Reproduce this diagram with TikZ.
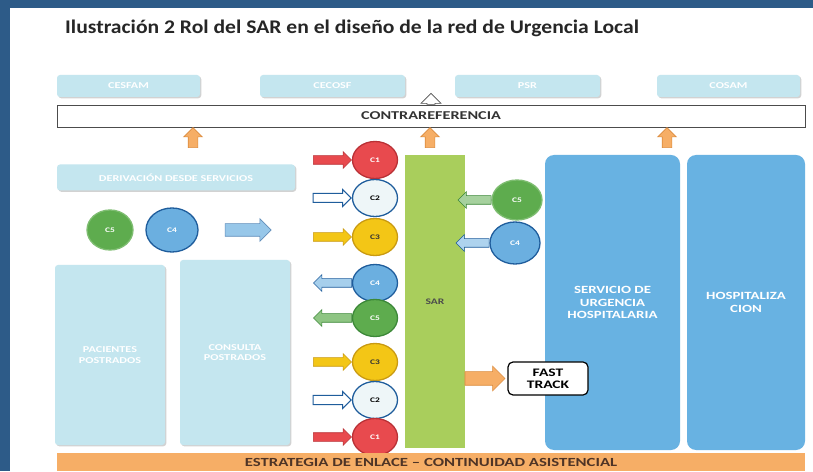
\documentclass[tikz,border=0pt]{standalone}
\usepackage{fontspec}
\setmainfont[FakeStretch=1.12]{Carlito}
\newfontfamily\diagfont[FakeStretch=1.35]{Carlito}
\usetikzlibrary{positioning,shapes.geometric,shapes.arrows,shadows}
\definecolor{frameblue}{HTML}{2D5B88}
\definecolor{boxcyan}{HTML}{C4E6EF}
\definecolor{hospblue}{HTML}{68B2E2}
\definecolor{sargreen}{HTML}{A9CE5C}
\definecolor{cred}{HTML}{E84A4E}
\definecolor{credd}{HTML}{B93136}
\definecolor{cwhite}{HTML}{EEF6F8}
\definecolor{cblued}{HTML}{1F5D9C}
\definecolor{cyellow}{HTML}{F3C616}
\definecolor{cyellowd}{HTML}{C99A12}
\definecolor{cblue}{HTML}{6BAFE0}
\definecolor{cgreen}{HTML}{5EAC4E}
\definecolor{cgreend}{HTML}{3C8838}
\definecolor{orangefill}{HTML}{F6AE66}
\definecolor{oranged}{HTML}{DC8C3E}
\definecolor{bartext}{HTML}{4E3426}
\begin{document}
\begin{tikzpicture}[x=1pt,y=1pt,
  lightbox/.style={rounded corners=3pt, fill=boxcyan, text=white, align=center,
    font=\diagfont\bfseries\fontsize{9}{10.5}\selectfont,
    drop shadow={shadow xshift=1.3pt, shadow yshift=-1.3pt, opacity=0.35}},
  bigbox/.style={rounded corners=9pt, fill=hospblue, text=white, align=center,
    font=\diagfont\bfseries\fontsize{11}{12.5}\selectfont, minimum height=295pt},
  cnode/.style={ellipse, minimum width=45pt, minimum height=37pt, inner sep=0pt,
    line width=1.3pt, font=\diagfont\bfseries\fontsize{7}{8}\selectfont},
  blockarrow/.style={single arrow, minimum height=38pt, minimum width=16pt,
    single arrow head extend=4pt, single arrow head indent=0pt, inner sep=4pt, line width=0.6pt},
  uparrow/.style={blockarrow, shape border rotate=90, minimum height=20pt, minimum width=18pt,
    inner sep=4.5pt, single arrow head extend=4.5pt, fill=orangefill, draw=oranged}
]
\useasboundingbox (0,0) rectangle (813,471);
\fill[frameblue] (0,0) rectangle (813,471);
\fill[white] (10,0) rectangle (813,463);

% title
\node[anchor=base west, inner sep=0pt, text=black!85,
  font=\bfseries\fontsize{19.3}{22}\selectfont] (title) at (65,437)
  {Ilustración 2 Rol del SAR en el diseño de la red de Urgencia Local};

% top row of centres
\node[lightbox, minimum width=143pt, minimum height=22pt] (cesfam) at (128.5,385) {CESFAM};
\node[lightbox, minimum width=145pt, minimum height=22pt] (cecosf) at (332.5,385) {CECOSF};
\node[lightbox, minimum width=145pt, minimum height=22pt] (psr) at (527.5,385) {PSR};
\node[lightbox, minimum width=143pt, minimum height=22pt] (cosam) at (728.5,385) {COSAM};

% contrarreferencia
\node[draw=black!70, line width=0.6pt, fill=white, minimum width=748pt, minimum height=22pt,
  font=\diagfont\bfseries\fontsize{12}{13}\selectfont, text=black!80] (contra) at (431,355) {CONTRAREFERENCIA};
\node[blockarrow, shape border rotate=90, minimum height=11pt, minimum width=20pt, inner sep=3pt,
  single arrow head extend=5pt, fill=white, draw=black!70, above=0pt of contra] (chevron) {};
\node[uparrow] (upa) at (193,331) {};
\node[uparrow] (upb) at (430,331) {};
\node[uparrow] (upc) at (667,331) {};

% left side
\node[lightbox, minimum width=238pt, minimum height=26pt] (deriva) at (176,293.5) {DERIVACIÓN DESDE SERVICIOS};
\node[cnode, fill=cgreen, draw=cgreen!80!white, text=white, minimum width=46pt, minimum height=40pt] (c5left) at (110,241) {C5};
\node[cnode, fill=cblue, draw=cblued, text=white, minimum width=52pt, minimum height=44pt] (c4left) at (172,241) {C4};
\node[blockarrow, minimum height=46pt, minimum width=22pt, inner sep=6pt, single arrow head extend=5pt,
  fill=cblue!70!white, draw=cblued!70] (flow) at (245,241) {};
\node[lightbox, minimum width=110pt, minimum height=180pt] (postra) at (110,116) {PACIENTES\\POSTRADOS};
\node[lightbox, minimum width=110pt, minimum height=185pt] (consul) at (235,118.5) {CONSULTA\\POSTRADOS};

% SAR
\node[fill=sargreen, minimum width=60pt, minimum height=293pt, text=black!70,
  font=\diagfont\bfseries\fontsize{8.5}{10}\selectfont] (sar) at (435,169.5) {SAR};

% circles entering and leaving SAR
\node[cnode, fill=cred, draw=credd, text=white] (c1top) at (375,311) {C1};
\node[cnode, fill=cwhite, draw=cblued, text=black] (c2top) at (375,273) {C2};
\node[cnode, fill=cyellow, draw=cyellowd, text=black!80] (c3top) at (375,234) {C3};
\node[cnode, fill=cblue, draw=cblued, text=white] (c4out) at (375,188) {C4};
\node[cnode, fill=cgreen, draw=cgreend, text=white] (c5out) at (375,153) {C5};
\node[cnode, fill=cyellow, draw=cyellowd, text=black!80] (c3bot) at (375,109) {C3};
\node[cnode, fill=cwhite, draw=cblued, text=black] (c2bot) at (375,71) {C2};
\node[cnode, fill=cred, draw=credd, text=white] (c1bot) at (375,34) {C1};

\node[blockarrow, fill=cred, draw=credd, left=0pt of c1top] (a1top) {};
\node[blockarrow, fill=white, draw=cblued, line width=1pt, left=0pt of c2top] (a2top) {};
\node[blockarrow, fill=cyellow, draw=cyellowd, left=0pt of c3top] (a3top) {};
\node[blockarrow, shape border rotate=180, fill=cblue!60!white, draw=cblued, left=0pt of c4out] (a4out) {};
\node[blockarrow, shape border rotate=180, fill=cgreen!70!white, draw=cgreend, left=0pt of c5out] (a5out) {};
\node[blockarrow, fill=cyellow, draw=cyellowd, left=0pt of c3bot] (a3bot) {};
\node[blockarrow, fill=white, draw=cblued, line width=1pt, left=0pt of c2bot] (a2bot) {};
\node[blockarrow, fill=cred, draw=credd, left=0pt of c1bot] (a1bot) {};

% hospital side
\node[bigbox, minimum width=135pt] (urgencia) at (612.5,168.5) {SERVICIO DE\\URGENCIA\\HOSPITALARIA};
\node[bigbox, minimum width=118pt] (hospital) at (746,168.5) {HOSPITALIZA\\CION};
\node[cnode, fill=cgreen, draw=cgreen!80!white, text=white, minimum width=50pt, minimum height=40pt] (c5right) at (517,271) {C5};
\node[cnode, fill=cblue, draw=cblued, text=white, minimum width=50pt, minimum height=42pt] (c4right) at (515,228) {C4};
\node[blockarrow, shape border rotate=180, minimum height=33pt, fill=cgreen!55!white, draw=cgreend,
  left=0pt of c5right] (a5right) {};
\node[blockarrow, shape border rotate=180, minimum height=33pt, fill=cblue!55!white, draw=cblued,
  left=0pt of c4right] (a4right) {};

% fast track
\node[draw=black, line width=1.2pt, fill=white, rounded corners=5pt, minimum width=80pt,
  minimum height=33pt, align=center, font=\diagfont\bfseries\fontsize{11.5}{12}\selectfont] (fast) at (548,92.5) {FAST\\TRACK};
\node[blockarrow, minimum height=40pt, minimum width=24pt, inner sep=6.5pt, single arrow head extend=5.5pt,
  fill=orangefill, draw=oranged, left=2pt of fast] (afast) {};

% bottom strip
\node[fill=orangefill, minimum width=748pt, minimum height=18pt, inner sep=0pt, text=bartext,
  font=\diagfont\bfseries\fontsize{12.4}{13}\selectfont] (enlace) at (431,9)
  {ESTRATEGIA DE ENLACE – CONTINUIDAD ASISTENCIAL};
\end{tikzpicture}
\end{document}
